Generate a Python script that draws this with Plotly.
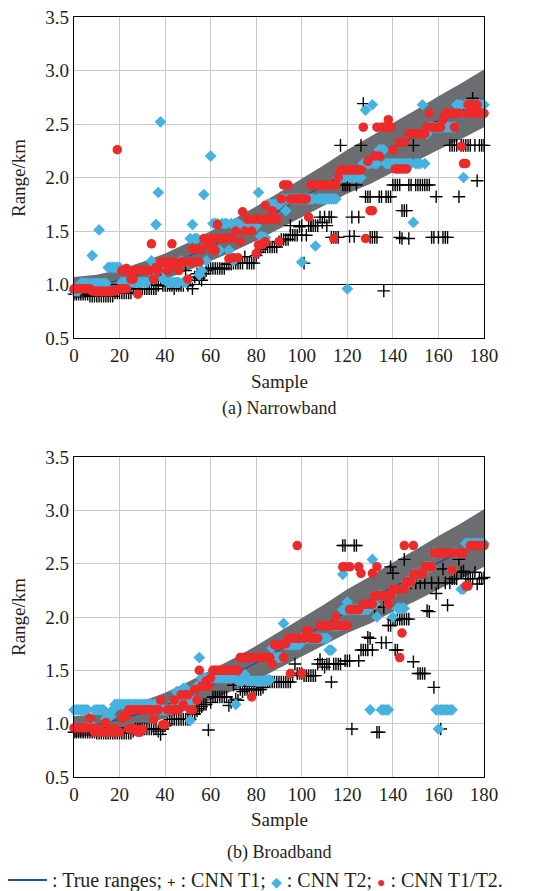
import plotly.graph_objects as go

# ---------------- data ----------------
samples = list(range(181))

true_x = [0, 10, 20, 30, 40, 50, 60, 70, 80, 90, 100, 110, 120, 130, 140, 150, 160, 170, 180]
true_range = [0.97, 0.99, 1.04, 1.10, 1.17, 1.26, 1.36, 1.46, 1.57, 1.69, 1.81, 1.93, 2.05, 2.16, 2.28, 2.39, 2.51, 2.62, 2.74]
band_upper = [1.07, 1.09, 1.14, 1.21, 1.29, 1.39, 1.50, 1.61, 1.73, 1.86, 1.99, 2.12, 2.26, 2.38, 2.51, 2.63, 2.76, 2.88, 3.01]
band_lower = [0.87, 0.89, 0.94, 0.99, 1.05, 1.13, 1.22, 1.31, 1.41, 1.52, 1.63, 1.74, 1.85, 1.94, 2.05, 2.15, 2.26, 2.36, 2.47]
ref_line_y = 1.0

# (a) Narrowband
nb_t1 = [
    0.91, 0.91, 0.91, 0.91, 0.91, 0.91, 0.91, 0.89, 0.89, 0.89,
    0.89, 0.89, 0.89, 0.89, 0.89, 0.89, 0.89, 0.89, 0.92, 0.92,
    0.92, 0.92, 0.92, 0.92, 0.92, 0.92, 0.96, 0.96, 0.96, 0.96,
    0.96, 0.96, 0.96, 0.96, 0.96, 0.96, 0.96, 0.99, 1.04, 0.99,
    0.99, 0.99, 0.99, 0.99, 0.96, 0.99, 0.99, 0.99, 0.99, 1.13,
    0.99, 1.04, 0.96, 1.07, 1.10, 1.06, 1.04, 1.10, 1.13, 1.15,
    1.15, 1.15, 1.15, 1.15, 1.15, 1.15, 1.15, 1.19, 1.19, 1.19,
    1.20, 1.20, 1.20, 1.20, 1.20, 1.26, 1.20, 1.20, 1.20, 1.20,
    1.27, 1.30, 1.33, 1.35, 1.35, 1.35, 1.35, 1.35, 1.35, 1.35,
    1.40, 1.42, 1.42, 1.42, 1.42, 1.46, 1.46, 1.46, 1.46, 1.54,
    1.55, 1.20, 1.46, 1.55, 1.55, 1.55, 1.55, 1.55, 1.63, 1.58,
    1.63, 1.55, 1.63, 1.63, 1.44, 1.44, 1.44, 2.30, 1.93, 1.93,
    1.93, 1.93, 1.63, 1.45, 1.93, 1.63, 2.30, 2.69, 1.82, 1.82,
    1.82, 1.44, 1.44, 1.44, 1.82, 1.82, 0.94, 1.82, 1.82, 1.82,
    1.93, 1.93, 1.93, 1.93, 1.69, 1.69, 1.69, 1.43, 1.93, 2.30,
    1.93, 1.93, 1.93, 1.93, 1.93, 1.93, 1.93, 1.44, 1.44, 1.82,
    1.44, 2.52, 1.44, 1.44, 1.44, 2.30, 2.30, 2.30, 2.30, 1.82,
    2.30, 2.30, 2.30, 2.30, 2.30, 2.74, 2.30, 1.97, 2.30, 2.30, 2.30,
]
nb_t1_extra_x = [95, 113, 121, 130, 143, 144, 147, 100, 104]
nb_t1_extra_y = [1.55, 1.44, 1.45, 1.44, 1.44, 1.43, 1.93, 1.46, 1.55]

nb_t2 = [
    0.94, 0.94, 0.94, 1.01, 1.01, 1.01, 1.01, 1.01, 1.01, 1.01,
    1.01, 1.01, 1.01, 1.01, 1.01, 1.16, 1.16, 1.16, 1.16, 1.16,
    1.16, 1.02, 1.02, 1.02, 1.02, 1.02, 1.02, 1.02, 1.02, 1.02,
    1.02, 1.02, 1.02, 1.13, 1.22, 1.05, 1.56, 1.86, 2.52, 1.05,
    1.13, 1.02, 1.02, 1.02, 1.02, 1.02, 1.02, 1.22, 1.02, 1.02,
    1.21, 1.43, 1.56, 1.43, 1.43, 1.09, 1.13, 1.84, 1.22, 1.43,
    2.20, 1.57, 1.57, 1.57, 1.32, 1.57, 1.57, 1.57, 1.32, 1.57,
    1.22, 1.57, 1.57, 1.55, 1.55, 1.55, 1.55, 1.55, 1.55, 1.55,
    1.55, 1.86, 1.45, 1.44, 1.44, 1.75, 1.75, 1.75, 1.75, 1.75,
    1.75, 1.80, 1.80, 1.69, 1.80, 1.80, 1.80, 1.80, 1.80, 1.80,
    1.21, 1.80, 1.80, 1.80, 1.80, 1.80, 1.36, 1.80, 1.80, 1.80,
    1.80, 1.80, 1.80, 1.80, 1.80, 1.80, 2.00, 2.00, 2.00, 2.00,
    0.96, 2.00, 2.00, 2.00, 2.00, 2.00, 2.00, 2.13, 2.63, 2.13,
    2.13, 2.68, 2.13, 2.13, 2.26, 2.26, 2.26, 2.13, 2.13, 2.13,
    2.13, 2.13, 2.13, 2.13, 2.13, 2.13, 2.13, 2.13, 2.13, 1.58,
    2.13, 2.13, 2.13, 2.68, 2.13, 2.41, 2.47, 2.47, 2.47, 2.47,
    2.47, 2.47, 2.47, 2.47, 2.47, 2.47, 2.47, 2.47, 2.68, 2.68,
    2.68, 2.00, 2.68, 2.68, 2.68, 2.68, 2.68, 2.68, 2.68, 2.68, 2.68,
]
nb_t2_extra_x = [8, 11]
nb_t2_extra_y = [1.27, 1.51]

nb_t12 = [
    0.96, 0.96, 0.96, 0.96, 0.96, 0.96, 0.96, 0.96, 0.94, 0.94,
    0.93, 0.94, 0.93, 0.94, 0.93, 0.94, 0.93, 0.94, 0.94, 2.26,
    0.96, 1.13, 1.13, 1.15, 1.13, 1.05, 1.05, 1.13, 0.91, 1.13,
    1.13, 1.13, 1.13, 1.13, 1.38, 1.05, 1.16, 1.13, 1.21, 1.21,
    1.21, 1.13, 1.21, 1.38, 1.21, 1.16, 1.13, 1.21, 1.21, 1.21,
    1.05, 1.21, 1.33, 1.21, 1.33, 1.21, 1.33, 1.43, 1.43, 1.38,
    1.43, 1.43, 1.32, 1.56, 1.43, 1.43, 1.43, 1.43, 1.24, 1.43,
    1.25, 1.50, 1.25, 1.40, 1.68, 1.50, 1.61, 1.61, 1.50, 1.61,
    1.29, 1.61, 1.61, 1.38, 1.74, 1.61, 1.61, 1.69, 1.61, 1.61,
    1.40, 1.80, 1.93, 1.93, 1.93, 1.80, 1.80, 1.80, 1.80, 1.80,
    1.80, 1.80, 1.80, 1.63, 1.93, 1.93, 1.93, 1.93, 1.93, 1.93,
    1.93, 1.93, 1.93, 1.93, 1.43, 1.93, 2.00, 2.07, 2.07, 2.07,
    2.07, 2.07, 2.07, 2.07, 2.07, 2.07, 2.07, 2.47, 1.43, 2.15,
    1.69, 1.69, 2.20, 2.47, 2.20, 2.47, 2.47, 2.47, 2.54, 2.47,
    2.26, 2.08, 2.08, 2.33, 2.33, 2.33, 2.08, 2.41, 2.41, 2.41,
    2.41, 2.41, 2.41, 2.41, 2.41, 2.47, 2.60, 2.47, 2.47, 2.47,
    2.47, 2.47, 2.54, 2.60, 2.60, 2.60, 2.60, 2.47, 2.60, 2.60,
    2.29, 2.13, 2.13, 2.68, 2.68, 2.68, 2.60, 2.68, 2.60, 2.60, 2.60,
]
nb_t12_extra_x = [20, 21, 22, 23, 81, 82, 83, 84, 143, 144, 145, 60, 61, 173, 174]
nb_t12_extra_y = [0.96, 0.96, 0.96, 0.96, 1.37, 1.37, 1.61, 1.40, 2.08, 2.08, 2.08, 1.38, 1.32, 2.60, 2.60]

# (b) Broadband
bb_t1 = [
    0.92, 0.92, 0.92, 0.92, 0.92, 0.92, 0.92, 0.92, 0.92, 0.92,
    0.91, 0.91, 0.91, 0.91, 0.91, 0.91, 0.91, 0.91, 0.91, 0.91,
    0.91, 0.91, 0.91, 0.91, 0.91, 0.91, 0.93, 0.95, 0.95, 0.95,
    0.95, 0.95, 0.95, 0.95, 0.95, 0.95, 0.95, 0.93, 0.90, 0.95,
    0.98, 1.00, 1.04, 1.04, 1.04, 1.04, 1.04, 1.04, 1.04, 1.04,
    1.04, 1.04, 1.09, 1.09, 1.12, 1.14, 1.16, 1.18, 1.18, 0.94,
    1.20, 1.25, 1.25, 1.25, 1.25, 1.25, 1.25, 1.25, 1.17, 1.20,
    1.36, 1.23, 1.22, 1.32, 1.30, 1.32, 1.32, 1.35, 1.32, 1.32,
    1.32, 1.32, 1.32, 1.34, 1.39, 1.39, 1.39, 1.39, 1.39, 1.39,
    1.39, 1.39, 1.39, 1.39, 1.39, 1.39, 1.45, 1.56, 1.47, 1.47,
    1.47, 1.45, 1.45, 1.45, 1.45, 1.45, 1.45, 1.56, 1.60, 1.56,
    1.53, 1.56, 1.56, 1.39, 1.56, 1.56, 1.56, 1.56, 2.67, 1.59,
    1.59, 1.59, 0.95, 2.67, 2.67, 1.59, 1.69, 1.69, 1.69, 1.69,
    1.80, 1.69, 2.10, 0.92, 0.92, 1.76, 2.09, 1.76, 1.92, 2.47,
    2.41, 1.97, 1.69, 1.98, 1.98, 2.54, 1.98, 1.98, 2.32, 1.58,
    2.32, 1.47, 1.47, 1.47, 2.32, 2.06, 2.05, 2.32, 1.34, 2.22,
    2.32, 0.95, 2.45, 2.32, 2.11, 2.32, 2.36, 2.36, 2.36, 2.54,
    2.42, 2.43, 2.36, 2.36, 2.36, 2.36, 2.42, 2.31, 2.36, 2.36, 2.37,
]
bb_t1_extra_x = [119, 129, 139, 140, 141, 142, 145, 150, 152, 154]
bb_t1_extra_y = [2.67, 1.81, 1.92, 1.98, 1.69, 1.98, 1.98, 2.32, 2.32, 1.47]

bb_t2 = [
    1.13, 1.13, 1.13, 1.13, 1.13, 1.13, 1.13, 0.98, 0.98, 1.13,
    1.13, 1.13, 1.13, 1.13, 1.05, 1.07, 1.07, 1.13, 1.18, 1.18,
    1.18, 1.18, 1.18, 1.18, 1.18, 1.18, 1.18, 1.18, 1.18, 1.18,
    1.18, 1.18, 1.18, 1.18, 1.18, 1.18, 1.13, 1.21, 1.13, 1.13,
    1.13, 1.13, 1.13, 1.13, 1.21, 1.30, 1.21, 1.21, 1.33, 1.33,
    1.21, 1.03, 1.21, 1.32, 1.35, 1.62, 1.43, 1.43, 1.43, 1.43,
    1.43, 1.43, 1.43, 1.43, 1.43, 1.43, 1.43, 1.43, 1.43, 1.43,
    1.43, 1.18, 1.40, 1.40, 1.40, 1.46, 1.40, 1.40, 1.40, 1.40,
    1.40, 1.40, 1.40, 1.40, 1.40, 1.41, 1.41, 1.71, 1.62, 1.62,
    1.62, 1.62, 1.94, 1.74, 1.74, 1.74, 1.74, 1.74, 1.74, 1.74,
    1.80, 1.80, 1.80, 1.80, 1.80, 1.80, 1.80, 1.80, 1.80, 1.80,
    1.80, 1.80, 1.69, 1.69, 1.92, 1.92, 1.92, 1.92, 2.40, 2.07,
    2.14, 2.07, 2.07, 2.07, 2.07, 2.07, 2.07, 2.07, 2.07, 2.07,
    1.13, 2.54, 2.12, 2.00, 2.20, 1.13, 1.13, 1.13, 1.13, 2.20,
    2.00, 2.26, 2.08, 2.08, 2.08, 2.08, 2.33, 2.33, 2.33, 2.40,
    2.40, 2.40, 2.40, 2.40, 2.47, 2.47, 2.47, 2.47, 2.60, 1.13,
    0.95, 1.13, 1.13, 1.13, 1.13, 1.13, 2.44, 2.60, 2.60, 2.60,
    2.26, 2.26, 2.69, 2.69, 2.69, 2.69, 2.69, 2.69, 2.69, 2.69, 2.69,
]
bb_t2_extra_x = [160, 166, 118, 120]
bb_t2_extra_y = [1.13, 1.13, 2.07, 2.07]

bb_t12 = [
    0.96, 0.96, 0.96, 0.96, 0.96, 0.96, 0.96, 1.05, 0.96, 0.92,
    0.96, 0.92, 0.94, 0.92, 1.01, 0.92, 0.95, 0.92, 0.95, 0.92,
    0.92, 1.05, 1.07, 1.07, 1.13, 0.95, 1.13, 0.95, 1.13, 0.92,
    1.13, 1.13, 1.13, 1.13, 1.13, 1.04, 1.13, 1.13, 1.22, 0.99,
    0.99, 1.13, 1.13, 1.13, 1.22, 1.13, 1.13, 1.27, 1.18, 1.27,
    1.27, 1.13, 1.13, 1.32, 1.22, 1.50, 1.35, 1.35, 1.40, 1.35,
    1.43, 1.50, 1.50, 1.50, 1.50, 1.50, 1.50, 1.50, 1.50, 1.50,
    1.50, 1.50, 1.50, 1.62, 1.62, 1.62, 1.62, 1.62, 1.25, 1.62,
    1.62, 1.62, 1.62, 1.62, 1.62, 1.62, 1.62, 1.56, 1.74, 1.73,
    1.74, 1.74, 1.62, 1.75, 1.80, 1.47, 1.80, 1.80, 2.67, 1.80,
    1.47, 1.80, 1.87, 1.87, 1.80, 1.80, 1.80, 1.80, 1.92, 1.92,
    1.92, 1.92, 1.92, 1.92, 1.92, 2.00, 1.92, 1.92, 2.47, 2.47,
    1.92, 2.47, 2.07, 2.07, 2.07, 2.47, 2.41, 2.12, 2.12, 2.12,
    2.12, 2.41, 2.20, 2.47, 2.20, 2.20, 2.20, 2.20, 2.12, 2.20,
    2.26, 2.26, 2.26, 1.62, 1.85, 2.67, 2.33, 2.33, 2.33, 2.67,
    2.40, 2.40, 2.40, 2.40, 2.47, 2.47, 2.47, 2.47, 2.60, 2.60,
    2.60, 2.60, 2.60, 2.60, 2.60, 2.60, 2.44, 2.60, 2.60, 2.60,
    2.60, 2.60, 2.29, 2.29, 2.67, 2.67, 2.67, 2.67, 2.67, 2.67, 2.67,
]
bb_t12_extra_x = [118, 119, 121, 125, 131, 133, 98, 145, 149, 24, 26, 28, 30]
bb_t12_extra_y = [1.92, 1.92, 2.07, 2.07, 2.12, 2.20, 1.80, 2.26, 2.40, 0.95, 0.95, 0.92, 0.95]

for name, arr in [("nb_t1", nb_t1), ("nb_t2", nb_t2), ("nb_t12", nb_t12),
                  ("bb_t1", bb_t1), ("bb_t2", bb_t2), ("bb_t12", bb_t12)]:
    assert len(arr) == 181, (name, len(arr))

# ---------------- style ----------------
W, H = 548, 891
OFF = 8  # the page body margin shifts the figure by 8 px; compensate
FONT = "Liberation Serif, Times New Roman, serif"
TXT = "#231f20"
BAND = "#6c6d70"
LINE_BLUE = "#1f4e9c"
DIAMOND = "#46b2df"
RED = "#ec2a2a"
GRID = "#c9c9c9"


def px(x):
    return (x - OFF) / W


def py(y):
    return (H - (y - OFF)) / H


fig = go.Figure()


def add_panel(xa, ya, t1, t1x, t1y, t2, t2x, t2y, t12, t12x, t12y, refline):
    common = dict(xaxis=xa, yaxis=ya, showlegend=False, hoverinfo="skip")
    fig.add_trace(go.Scatter(x=true_x, y=band_upper, mode="lines",
                             line=dict(width=0, color=BAND), **common))
    fig.add_trace(go.Scatter(x=true_x, y=band_lower, mode="lines", fill="tonexty",
                             fillcolor=BAND, line=dict(width=0, color=BAND), **common))
    if refline:
        fig.add_trace(go.Scatter(x=[0, 180], y=[ref_line_y, ref_line_y], mode="lines",
                                 line=dict(width=1.2, color="black"), **common))
    fig.add_trace(go.Scatter(x=true_x, y=true_range, mode="lines",
                             line=dict(width=1.3, color=LINE_BLUE), **common))
    fig.add_trace(go.Scatter(x=samples + t1x, y=t1 + t1y, mode="markers", cliponaxis=False,
                             marker=dict(symbol="cross-thin", size=9,
                                         line=dict(width=1.4, color="black")), **common))
    fig.add_trace(go.Scatter(x=samples + t2x, y=t2 + t2y, mode="markers", cliponaxis=False,
                             marker=dict(symbol="diamond", size=9, color=DIAMOND,
                                         line=dict(width=0)), **common))
    fig.add_trace(go.Scatter(x=samples + t12x, y=t12 + t12y, mode="markers", cliponaxis=False,
                             marker=dict(symbol="circle", size=9.5, color=RED,
                                         line=dict(width=0)), **common))


add_panel("x", "y", nb_t1, nb_t1_extra_x, nb_t1_extra_y, nb_t2, nb_t2_extra_x, nb_t2_extra_y,
          nb_t12, nb_t12_extra_x, nb_t12_extra_y, True)
add_panel("x2", "y2", bb_t1, bb_t1_extra_x, bb_t1_extra_y, bb_t2, bb_t2_extra_x, bb_t2_extra_y,
          bb_t12, bb_t12_extra_x, bb_t12_extra_y, False)

xdom = [px(74), px(484)]
xcommon = dict(range=[0, 180], tick0=0, dtick=20, showgrid=True, gridcolor=GRID, gridwidth=1.3,
               zeroline=False, showline=True, linecolor="black", linewidth=1.3, mirror=True,
               ticks="", automargin=False, ticklabeloverflow="allow",
               tickfont=dict(family=FONT, size=19, color=TXT), domain=xdom)
ycommon = dict(range=[0.5, 3.5], tick0=0.5, dtick=0.5, tickformat=".1f", showgrid=True,
               gridcolor=GRID, gridwidth=1.3, zeroline=False, showline=True, linecolor="black",
               linewidth=1.3, mirror=True, ticks="", automargin=False, ticklabeloverflow="allow",
               tickfont=dict(family=FONT, size=19, color=TXT))

fig.update_layout(
    width=W, height=H, autosize=False,
    margin=dict(l=0, r=0, t=0, b=0),
    paper_bgcolor="white", plot_bgcolor="white",
    showlegend=False,
    xaxis=dict(anchor="y", **xcommon),
    yaxis=dict(anchor="x", domain=[py(338), py(17)], **ycommon),
    xaxis2=dict(anchor="y2", **xcommon),
    yaxis2=dict(anchor="x2", domain=[py(777), py(457)], **ycommon),
)

ann = []


def text(x, y, s, size=19, angle=0, xanchor="center"):
    ann.append(dict(x=px(x), y=py(y), xref="paper", yref="paper", text=s, showarrow=False,
                    textangle=angle, xanchor=xanchor, yanchor="middle",
                    font=dict(family=FONT, size=size, color=TXT)))


text(18, 178, "Range/km", angle=-90)
text(279, 381, "Sample")
text(279, 409, "(a) Narrowband", size=18)
text(18, 617, "Range/km", angle=-90)
text(279, 819, "Sample")
text(279, 852, "(b) Broadband", size=18)
legend_txt = (": True ranges; <span style='font-size:15px'><b>+</b></span> : CNN T1; "
              f"<span style='color:{DIAMOND};font-size:14px'>◆</span> : CNN T2; "
              f"<span style='color:{RED};font-size:14px'>●</span> : CNN T1/T2.")
text(50, 880, legend_txt, size=20, xanchor="left")

fig.update_layout(
    annotations=ann,
    shapes=[dict(type="line", xref="paper", yref="paper", x0=px(8), x1=px(47),
                 y0=py(880), y1=py(880), line=dict(color=LINE_BLUE, width=2))],
)

fig.write_html("out.html")
